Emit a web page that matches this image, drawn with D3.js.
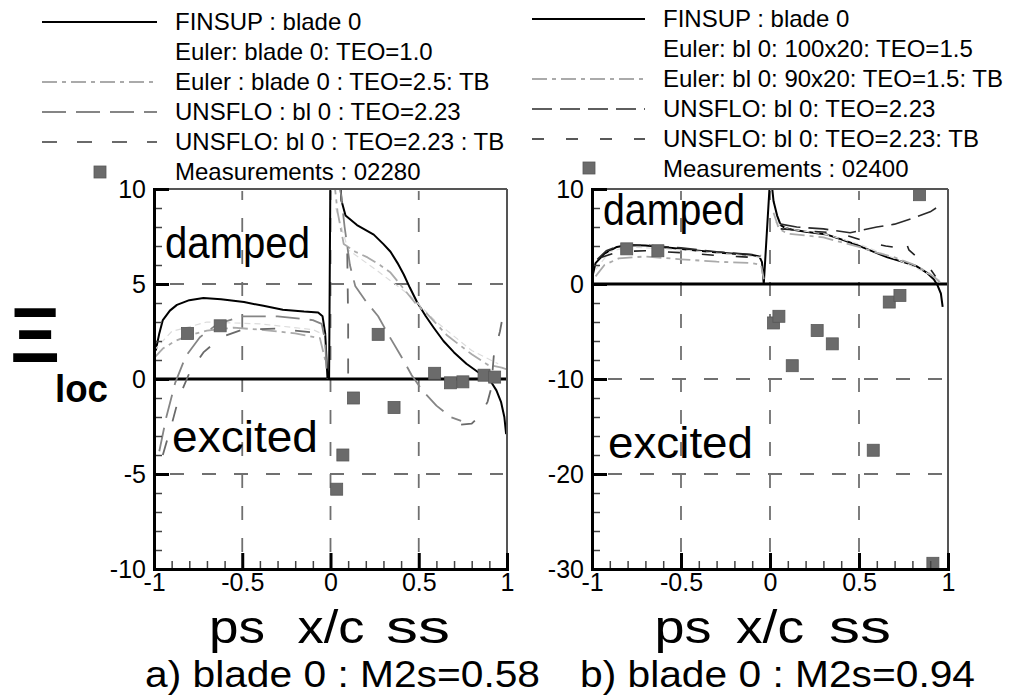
<!DOCTYPE html>
<html>
<head>
<meta charset="utf-8">
<script src="https://cdn.jsdelivr.net/npm/d3@7"></script>
<style>
  html, body { margin: 0; padding: 0; background: #fff; }
  svg { display: block; }
  text { font-family: "Liberation Sans", Arial, Helvetica, sans-serif; fill: #000; }
</style>
</head>
<body>
<svg id="chart" width="1017" height="695"></svg>
<script>
// ---------- data ----------
const xTickValues = [-1, -0.5, 0, 0.5, 1];
const yTickValuesA = [-10, -5, 0, 5, 10];
const yTickValuesB = [-30, -20, -10, 0, 10];

const legendA = ["FINSUP : blade 0", "Euler: blade 0: TEO=1.0", "Euler : blade 0 : TEO=2.5: TB",
                 "UNSFLO : bl 0 : TEO=2.23", "UNSFLO: bl 0 : TEO=2.23 : TB", "Measurements : 02280"];
const legendB = ["FINSUP : blade 0", "Euler: bl 0: 100x20: TEO=1.5", "Euler: bl 0: 90x20: TEO=1.5: TB",
                 "UNSFLO: bl 0: TEO=2.23", "UNSFLO: bl 0: TEO=2.23: TB", "Measurements : 02400"];

const titleA = "a) blade 0 : M2s=0.58";
const titleB = "b) blade 0 : M2s=0.94";
const xLabelParts = ["ps", "x/c", "ss"];
const regionLabels = ["damped", "excited"];

// Panel a) M2s=0.58 : local damping coefficient along x/c (null = break in the curve)
const finsupA = [[-0.99,1.5],[-0.97,2.4],[-0.95,3.1],[-0.91,3.6],[-0.87,3.9],[-0.8,4.15],[-0.72,4.26],
  [-0.62,4.2],[-0.49,4.05],[-0.38,3.85],[-0.27,3.65],[-0.15,3.55],[-0.07,3.5],[-0.045,3.3],[-0.03,2.4],
  [-0.017,0.0],[-0.008,0.0],[0.0,11.5],[0.055,10.4],[0.062,9.4],[0.085,8.6],[0.15,8.1],[0.245,7.6],
  [0.3,7.1],[0.34,6.7],[0.38,6.1],[0.415,5.5],[0.45,4.8],[0.49,4.05],[0.54,3.3],[0.585,2.7],[0.64,2.0],
  [0.7,1.4],[0.77,0.8],[0.835,0.37],[0.88,0.05],[0.91,-0.16],[0.94,-0.6],[0.966,-1.2],[0.985,-2.0],[0.995,-2.9]];
const eulerA = [[-1,1.5],[-0.9,2.5],[-0.7,3.0],[-0.4,2.9],[-0.1,2.6],[-0.03,2.3], null,
  [0.03,9.0],[0.1,6.8],[0.25,5.8],[0.45,4.4],[0.6,3.0],[0.8,1.5],[0.95,0.8]];
const eulerTbA = [[-1,1.1],[-0.95,1.6],[-0.88,2.0],[-0.8,2.3],[-0.7,2.55],[-0.55,2.7],[-0.4,2.6],
  [-0.2,2.4],[-0.06,2.15],[-0.03,1.0], null,
  [0.02,10.5],[0.04,8.8],[0.075,7.1],[0.14,6.7],[0.21,6.4],[0.28,6.0],[0.34,5.6],[0.41,4.8],[0.48,4.0],
  [0.55,3.4],[0.66,2.3],[0.8,1.3],[0.89,0.75],[0.97,0.6],[1.0,0.5]];
const unsfloA = [[-0.97,-3.8],[-0.93,-2.0],[-0.88,-0.2],[-0.82,1.2],[-0.74,2.2],[-0.64,2.9],[-0.5,3.3],
  [-0.3,3.3],[-0.1,3.1],[-0.05,2.9],[-0.03,2.0],[-0.02,0.0], null,
  [0.05,10.5],[0.08,8.0],[0.11,6.0],[0.14,4.9],[0.2,4.1],[0.27,3.3],[0.33,2.3],[0.4,1.2],[0.46,0.2],
  [0.52,-0.6],[0.6,-1.4],[0.68,-2.0],[0.74,-2.2]];
const unsfloTbA = [[-0.95,-4.0],[-0.9,-2.4],[-0.86,-1.0],[-0.8,0.3],[-0.72,1.4],[-0.62,2.2],[-0.5,2.6],
  [-0.3,2.65],[-0.1,2.45],[-0.05,2.3], null,
  [0.095,6.6],[0.1,3.0],[0.1,0.0], null,
  [0.74,-2.4],[0.8,-2.35],[0.85,-1.9],[0.89,-1.2],[0.91,-0.5],[0.925,1.2],[0.94,1.8],[0.96,2.5],[0.97,3.0]];
const measA = [[-0.81,2.4],[-0.625,2.8],[0.035,-5.8],[0.07,-4.0],[0.13,-1.0],[0.27,2.35],[0.36,-1.5],
  [0.59,0.3],[0.68,-0.2],[0.75,-0.15],[0.87,0.2],[0.93,0.1]];

// Panel b) M2s=0.94
const finsupB = [[-0.995,1.0],[-0.98,2.2],[-0.93,3.2],[-0.86,3.9],[-0.8,4.1],[-0.7,4.05],[-0.55,3.8],
  [-0.4,3.5],[-0.26,3.26],[-0.1,3.05],[-0.06,2.9],[-0.045,2.3],[-0.035,0.0],[0.0,11.0],[0.01,10.5],
  [0.02,8.7],[0.04,7.2],[0.06,6.2],[0.085,5.9],[0.13,5.7],[0.2,5.5],[0.32,5.2],[0.4,4.7],[0.49,4.1],
  [0.58,3.4],[0.66,2.8],[0.75,2.3],[0.82,1.9],[0.88,1.2],[0.92,0.5],[0.94,-0.1],[0.96,-1.0],[0.97,-2.4]];
const eulerB = [[-0.98,1.5],[-0.9,3.4],[-0.8,3.9],[-0.5,3.6],[-0.2,3.1],[-0.05,2.8], null,
  [0.03,6.5],[0.1,5.8],[0.3,5.3],[0.5,4.2],[0.7,2.7],[0.9,1.0],[0.96,0.3]];
const eulerTbB = [[-0.98,0.8],[-0.93,2.0],[-0.85,2.7],[-0.7,2.9],[-0.5,2.6],[-0.3,2.35],[-0.1,2.2],
  [-0.05,2.0],[-0.035,0.5], null,
  [0.02,7.5],[0.05,5.8],[0.1,5.3],[0.2,5.1],[0.3,4.9],[0.4,4.4],[0.5,3.9],[0.6,3.3],[0.7,2.8],
  [0.8,2.1],[0.88,1.3],[0.93,0.6],[0.96,0.1]];
const unsfloB = [[-0.97,2.6],[-0.92,3.5],[-0.85,4.0],[-0.7,4.1],[-0.5,3.8],[-0.3,3.4],[-0.1,3.1],[-0.05,3.0], null,
  [0.06,6.3],[0.15,6.0],[0.3,5.8],[0.45,5.4],[0.5,5.6],[0.6,6.0],[0.7,6.3],[0.8,6.9],[0.9,7.6],[0.95,8.2],[0.96,8.6]];
const unsfloTbB = [[-0.95,2.8],[-0.85,3.4],[-0.7,3.5],[-0.5,3.3],[-0.3,3.0],[-0.1,2.8],[-0.05,2.6], null,
  [0.06,5.8],[0.2,5.6],[0.35,5.4],[0.45,5.0],[0.55,4.4],[0.65,4.0],[0.72,3.8],[0.76,4.6],[0.78,3.6],
  [0.85,2.4],[0.9,1.6],[0.93,0.8]];
const measB = [[-0.805,3.7],[-0.63,3.5],[0.02,-4.1],[0.05,-3.4],[0.125,-8.6],[0.265,-4.9],[0.35,-6.3],
  [0.58,-17.5],[0.67,-1.9],[0.73,-1.2],[0.84,9.4],[0.915,-29.4]];

// ---------- styles ----------
const stylesA = [
  { color: "#000",    width: 2.0, dash: null,          swatch: true },
  { color: "#dcdcdc", width: 1.2, dash: "6,4",         swatch: false },
  { color: "#aaaaaa", width: 1.8, dash: "15,5,4,5",    swatch: true },
  { color: "#858585", width: 1.8, dash: "24,10",       swatch: true },
  { color: "#6a6a6a", width: 1.8, dash: "15,20",       swatch: true }
];
const stylesB = [
  { color: "#000",    width: 2.0, dash: null,          swatch: true },
  { color: "#dcdcdc", width: 1.2, dash: "6,4",         swatch: false },
  { color: "#aaaaaa", width: 1.8, dash: "15,5,4,5",    swatch: true },
  { color: "#2a2a2a", width: 1.6, dash: "20,8",        swatch: true },
  { color: "#222222", width: 1.6, dash: "12,22",       swatch: true }
];

const panels = [
  { id: "a", left: 154, right: 507, top: 189, bottom: 569, yDomain: [-10, 10], yTicks: yTickValuesA,
    yMinor: d3.range(-9, 10, 1).filter(v => v % 5 !== 0), yGrid: [5, -5],
    series: [finsupA, eulerA, eulerTbA, unsfloA, unsfloTbA], styles: stylesA, meas: measA,
    legend: legendA, lx1: 42, lx2: 157, ltx: 175, ly0: 22, lSq: [100, 172],
    damped: [165, 258, 145], excited: [172, 452, 146],
    title: titleA, titleX: 145, titleLen: 395,
    parts: [[237, 56], [331, 67], [418, 64]] },
  { id: "b", left: 592, right: 948, top: 189, bottom: 569, yDomain: [-30, 10], yTicks: yTickValuesB,
    yMinor: d3.range(-28, 10, 2).filter(v => v % 10 !== 0), yGrid: [-10, -20],
    series: [finsupB, eulerB, eulerTbB, unsfloB, unsfloTbB], styles: stylesB, meas: measB,
    legend: legendB, lx1: 532, lx2: 645, ltx: 663, ly0: 19, lSq: [589, 168],
    damped: [603, 225, 142], excited: [608, 458, 145],
    title: titleB, titleX: 580, titleLen: 395,
    parts: [[683, 57], [770, 68], [860, 62]] }
];

const svg = d3.select("#chart");
const xMinor = d3.range(-9, 10, 1).map(v => v / 10).filter(v => Math.abs(v * 2 - Math.round(v * 2)) > 1e-6);

panels.forEach(p => {
  const x = d3.scaleLinear().domain([-1, 1]).range([p.left, p.right]);
  const y = d3.scaleLinear().domain(p.yDomain).range([p.bottom, p.top]);
  const g = svg.append("g").attr("class", "panel-" + p.id);

  g.append("clipPath").attr("id", "clip-" + p.id)
    .append("rect").attr("x", p.left).attr("y", p.top)
    .attr("width", p.right - p.left).attr("height", p.bottom - p.top);

  // dashed grid
  const grid = g.append("g").attr("stroke", "#707070").attr("stroke-width", 1.8).attr("stroke-dasharray", "14,18");
  p.yGrid.forEach(v => grid.append("line")
    .attr("x1", p.left + 16).attr("x2", p.right - 4).attr("y1", y(v)).attr("y2", y(v)));
  [-0.5, 0, 0.5].forEach(v => grid.append("line")
    .attr("x1", x(v)).attr("x2", x(v)).attr("y1", p.bottom - 17).attr("y2", p.top + 2));

  // zero line
  g.append("line").attr("x1", x(-1)).attr("x2", x(1)).attr("y1", y(0)).attr("y2", y(0))
    .attr("stroke", "#000").attr("stroke-width", 3);

  // curves
  const line = d3.line().defined(d => d !== null).x(d => x(d[0])).y(d => y(d[1]));
  const curves = g.append("g").attr("clip-path", `url(#clip-${p.id})`).attr("fill", "none");
  p.series.forEach((s, i) => {
    const st = p.styles[i];
    curves.append("path").attr("d", line(s))
      .attr("stroke", st.color).attr("stroke-width", st.width)
      .attr("stroke-dasharray", st.dash).attr("stroke-linejoin", "round");
  });

  // measurements
  const sq = 12;
  g.append("g").selectAll("rect").data(p.meas).join("rect")
    .attr("x", d => x(d[0]) - sq / 2).attr("y", d => y(d[1]) - sq / 2)
    .attr("width", sq).attr("height", sq)
    .attr("fill", "#6b6b6b").attr("stroke", "#585858").attr("stroke-width", 0.8);

  // frame
  g.append("line").attr("x1", p.left).attr("x2", p.right).attr("y1", p.top).attr("y2", p.top)
    .attr("stroke", "#555").attr("stroke-width", 2);
  g.append("line").attr("x1", p.right).attr("x2", p.right).attr("y1", p.top).attr("y2", p.bottom)
    .attr("stroke", "#555").attr("stroke-width", 2);

  // axes
  const yMinorAxis = g.append("g").attr("transform", `translate(${p.left},0)`)
    .call(d3.axisLeft(y).tickValues(p.yMinor).tickSize(-8).tickFormat(""));
  yMinorAxis.select(".domain").remove();
  yMinorAxis.selectAll("line").attr("stroke", "#444").attr("stroke-width", 1.5);

  const xMinorAxis = g.append("g").attr("transform", `translate(0,${p.bottom})`)
    .call(d3.axisBottom(x).tickValues(xMinor).tickSize(-8).tickFormat(""));
  xMinorAxis.select(".domain").remove();
  xMinorAxis.selectAll("line").attr("stroke", "#444").attr("stroke-width", 1.5);

  const yAxis = g.append("g").attr("transform", `translate(${p.left},0)`)
    .call(d3.axisLeft(y).tickValues(p.yTicks).tickSize(-15).tickPadding(8).tickFormat(d => String(d)));
  yAxis.select(".domain").attr("stroke", "#000").attr("stroke-width", 3);
  yAxis.selectAll("line").attr("stroke", "#000").attr("stroke-width", 3);
  yAxis.selectAll("text").attr("font-size", 25).attr("font-family", "Liberation Sans, Arial, sans-serif").attr("fill", "#000");

  const xAxis = g.append("g").attr("transform", `translate(0,${p.bottom})`)
    .call(d3.axisBottom(x).tickValues(xTickValues).tickSize(-16).tickPadding(4).tickFormat(d => String(d)));
  xAxis.select(".domain").attr("stroke", "#000").attr("stroke-width", 3);
  xAxis.selectAll("line").attr("stroke", "#000").attr("stroke-width", 3);
  xAxis.selectAll("text").attr("font-size", 25).attr("font-family", "Liberation Sans, Arial, sans-serif").attr("fill", "#000");

  // region labels
  g.append("text").attr("x", p.damped[0]).attr("y", p.damped[1]).attr("font-size", 44)
    .attr("textLength", p.damped[2]).attr("lengthAdjust", "spacingAndGlyphs").text(regionLabels[0]);
  g.append("text").attr("x", p.excited[0]).attr("y", p.excited[1]).attr("font-size", 44)
    .attr("textLength", p.excited[2]).attr("lengthAdjust", "spacingAndGlyphs").text(regionLabels[1]);

  // legend
  const lg = g.append("g").attr("class", "legend");
  p.legend.forEach((lab, i) => {
    const ly = p.ly0 + i * 30;
    if (i < p.styles.length && p.styles[i].swatch) {
      const st = p.styles[i];
      lg.append("line").attr("x1", p.lx1).attr("x2", p.lx2).attr("y1", ly).attr("y2", ly)
        .attr("stroke", st.color).attr("stroke-width", st.width).attr("stroke-dasharray", st.dash);
    }
    lg.append("text").attr("x", p.ltx).attr("y", ly).attr("dy", "0.35em")
      .attr("font-size", 24).text(lab);
  });
  lg.append("rect").attr("x", p.lSq[0] - 6).attr("y", p.lSq[1] - 6).attr("width", 12).attr("height", 12)
    .attr("fill", "#6b6b6b").attr("stroke", "#585858").attr("stroke-width", 0.8);

  // axis title pieces under the x axis
  xLabelParts.forEach((t, i) => {
    g.append("text").attr("x", p.parts[i][0]).attr("y", 643).attr("text-anchor", "middle")
      .attr("font-size", 47).attr("textLength", p.parts[i][1]).attr("lengthAdjust", "spacingAndGlyphs").text(t);
  });

  // panel caption
  g.append("text").attr("x", p.titleX).attr("y", 687).attr("font-size", 37)
    .attr("textLength", p.titleLen).attr("lengthAdjust", "spacingAndGlyphs").text(p.title);
});

// y axis title: Xi_loc
svg.append("text").attr("x", 35).attr("y", 362).attr("text-anchor", "middle")
  .attr("font-family", "DejaVu Serif, Liberation Serif, serif").attr("font-weight", "bold")
  .attr("font-size", 78).text("Ξ");
svg.append("text").attr("x", 55).attr("y", 402)
  .attr("font-weight", "bold").attr("font-size", 38).attr("textLength", 53)
  .attr("lengthAdjust", "spacingAndGlyphs").text("loc");
</script>
</body>
</html>
